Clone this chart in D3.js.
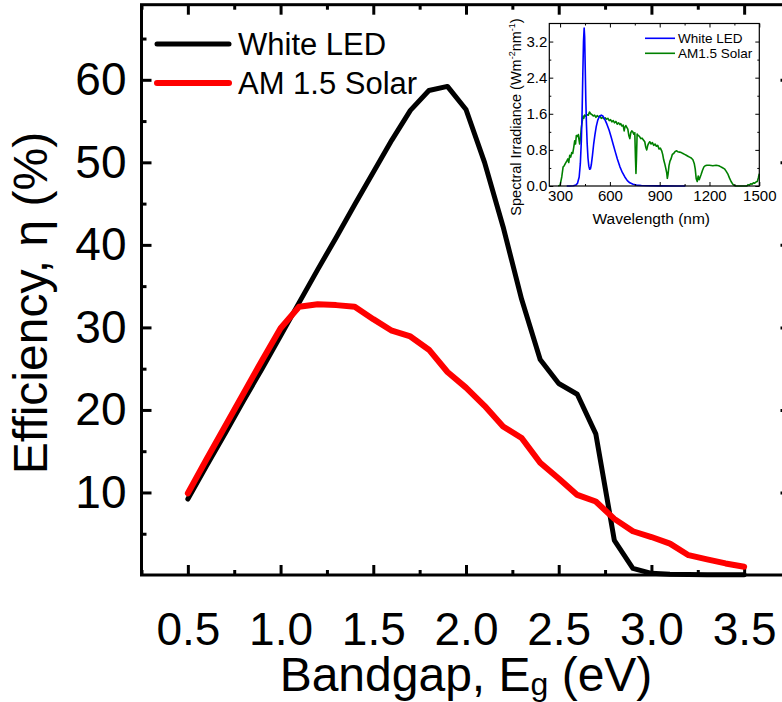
<!DOCTYPE html>
<html>
<head>
<meta charset="utf-8">
<script src="https://cdn.jsdelivr.net/npm/d3@7/dist/d3.min.js"></script>
<style>
  body { margin: 0; background: #fff; }
  svg { display: block; }
  text { font-family: "Liberation Sans", Arial, sans-serif; fill: #000; }
</style>
</head>
<body>
<svg id="chart" width="782" height="702"></svg>
<script>
// Main panel: efficiency versus bandgap
const bandgap = [0.5, 0.6, 0.7, 0.8, 0.9, 1.0, 1.1, 1.2, 1.3, 1.4, 1.5, 1.6, 1.7, 1.8, 1.9, 2.0,
                 2.1, 2.2, 2.3, 2.4, 2.5, 2.6, 2.7, 2.8, 2.9, 3.0, 3.1, 3.2, 3.3, 3.4, 3.5];
const effWhiteLED = [9.2, 13.2, 17.1, 21.1, 25.0, 29.0, 33.0, 37.0, 40.9, 44.9, 48.8, 52.7, 56.3, 58.7, 59.2, 56.4,
                     50.0, 42.2, 33.4, 26.1, 23.2, 21.9, 17.1, 4.2, 0.8, 0.2, 0.1, 0.05, 0.03, 0.02, 0.02];
const effSolar = [9.9, 14.0, 18.0, 22.0, 26.0, 29.9, 32.5, 32.8, 32.7, 32.5, 31.0, 29.6, 28.9, 27.3, 24.6, 22.7,
                  20.5, 18.0, 16.6, 13.6, 11.7, 9.7, 8.9, 6.8, 5.3, 4.6, 3.8, 2.4, 1.9, 1.4, 1.0];
const seriesNames = ["White LED", "AM 1.5 Solar"];
const seriesColors = ["#000000", "#ff0000"];
const xTickValues = [0.5, 1.0, 1.5, 2.0, 2.5, 3.0, 3.5];
const xMinorValues = [0.25, 0.75, 1.25, 1.75, 2.25, 2.75, 3.25, 3.75];
const yTickValues = [10, 20, 30, 40, 50, 60];
const yMinorValues = [5, 15, 25, 35, 45, 55, 65];

// Inset: spectral irradiance of the two sources
const ledWavelength = [340, 360, 380, 395, 405, 415, 422, 428, 433, 437, 441, 445, 448, 451, 455, 459, 463, 468, 473, 478,
                       483, 488, 495, 502, 510, 518, 527, 537, 548, 558, 570, 582, 595, 608, 620, 633, 645, 660, 675, 690,
                       705, 720, 740, 760, 790, 830, 900, 1000, 1055];
const ledIrradiance = [0, 0, 0.005, 0.02, 0.06, 0.2, 0.5, 1.0, 1.7, 2.5, 3.2, 3.5, 3.3, 2.7, 1.9, 1.35, 0.95, 0.62, 0.44, 0.37,
                       0.38, 0.47, 0.68, 0.92, 1.14, 1.32, 1.46, 1.54, 1.57, 1.55, 1.47, 1.37, 1.24, 1.08, 0.92, 0.75, 0.6, 0.43, 0.3, 0.2,
                       0.12, 0.07, 0.04, 0.02, 0.01, 0.005, 0.002, 0.001, 0];
const solarWavelength = [289, 300, 310, 318, 325, 332, 340, 347, 352, 358, 364, 370, 376, 382, 388, 393, 398, 404, 410, 414,
                         418, 423, 428, 433, 438, 443, 448, 455, 462, 470, 477, 484, 492, 500, 508, 516, 524, 532, 540, 548,
                         556, 564, 572, 580, 588, 596, 604, 612, 620, 628, 636, 644, 652, 660, 666, 672, 680, 686, 690, 696,
                         702, 708, 714, 720, 726, 732, 738, 744, 750, 754, 757, 760, 764, 770, 778, 786, 794, 802, 810, 816,
                         822, 828, 834, 840, 848, 856, 864, 872, 880, 888, 896, 904, 912, 918, 924, 930, 936, 942, 946, 950,
                         956, 962, 968, 976, 984, 992, 1000, 1010, 1020, 1030, 1040, 1050, 1060, 1070, 1080, 1090, 1100, 1108, 1114, 1120,
                         1126, 1132, 1138, 1144, 1150, 1158, 1166, 1174, 1184, 1200, 1220, 1240, 1256, 1266, 1276, 1290, 1300, 1310, 1320, 1330,
                         1340, 1350, 1358, 1400, 1425, 1432, 1440, 1448, 1456, 1465, 1472, 1480, 1488, 1494, 1500];
const solarIrradiance = [0, 0.02, 0.2, 0.42, 0.45, 0.5, 0.55, 0.6, 0.52, 0.68, 0.64, 0.74, 0.72, 0.85, 1.0, 0.93, 1.12, 1.1, 1.14, 1.02,
                         0.93, 1.08, 1.3, 1.42, 1.55, 1.5, 1.57, 1.55, 1.58, 1.57, 1.64, 1.6, 1.58, 1.55, 1.57, 1.52, 1.56, 1.53, 1.55, 1.5,
                         1.52, 1.49, 1.51, 1.48, 1.5, 1.45, 1.47, 1.42, 1.45, 1.4, 1.43, 1.37, 1.4, 1.36, 1.38, 1.33, 1.35, 1.22, 1.3, 1.34,
                         1.3, 1.26, 1.12, 1.05, 1.18, 1.22, 1.2, 1.15, 1.18, 0.62, 0.28, 0.6, 1.15, 1.12, 1.1, 1.05, 1.06, 1.02, 0.98, 0.86,
                         0.8, 0.9, 0.95, 0.98, 0.93, 0.96, 0.9, 0.93, 0.88, 0.9, 0.82, 0.84, 0.78, 0.7, 0.58, 0.5, 0.4, 0.3, 0.17, 0.25,
                         0.45, 0.55, 0.6, 0.7, 0.72, 0.76, 0.78, 0.76, 0.75, 0.74, 0.72, 0.7, 0.68, 0.66, 0.64, 0.62, 0.58, 0.5, 0.38, 0.16,
                         0.1, 0.22, 0.14, 0.2, 0.26, 0.35, 0.42, 0.45, 0.46, 0.46, 0.45, 0.46, 0.45, 0.43, 0.41, 0.38, 0.33, 0.27, 0.18, 0.1,
                         0.04, 0.01, 0, 0, 0, 0.03, 0.02, 0.05, 0.04, 0.07, 0.06, 0.09, 0.1, 0.18, 0.27];
const insetNames = ["White LED", "AM1.5 Solar"];
const insetColors = ["#0000ff", "#008000"];
const insetXTicks = [300, 600, 900, 1200, 1500];
const insetXMinor = [450, 750, 1050, 1350];
const insetYTicks = [0.0, 0.8, 1.6, 2.4, 3.2];
const insetYMinor = [0.4, 1.2, 2.0, 2.8];

const svg = d3.select("#chart");
const FONT = "Liberation Sans, Arial, sans-serif";

// ---------- main plot ----------
const frame = { left: 141.5, right: 790.5, top: 4.7, bottom: 575 };
const x = d3.scaleLinear().domain([0.25, 3.75]).range([frame.left, frame.right]);
const y = d3.scaleLinear().domain([0, 69.1]).range([frame.bottom, frame.top]);

function styleTicks(g, width) {
  g.attr("font-family", FONT);
  g.select(".domain").remove();
  g.selectAll(".tick line").attr("stroke", "#000").attr("stroke-width", width);
}

// bottom axis with labels, ticks pointing inward
svg.append("g").attr("transform", `translate(0,${frame.bottom})`)
  .call(d3.axisBottom(x).tickValues(xTickValues).tickSize(-10).tickPadding(37.5).tickFormat(d3.format(".1f")))
  .call(g => styleTicks(g, 3))
  .call(g => g.selectAll("text").attr("font-size", 46));
svg.append("g").attr("transform", `translate(0,${frame.bottom})`)
  .call(d3.axisBottom(x).tickValues(xMinorValues).tickSize(-5).tickFormat(""))
  .call(g => styleTicks(g, 3));
// top mirror
svg.append("g").attr("transform", `translate(0,${frame.top})`)
  .call(d3.axisTop(x).tickValues(xTickValues).tickSize(-10).tickFormat(""))
  .call(g => styleTicks(g, 3));
svg.append("g").attr("transform", `translate(0,${frame.top})`)
  .call(d3.axisTop(x).tickValues(xMinorValues).tickSize(-5).tickFormat(""))
  .call(g => styleTicks(g, 3));
// left axis with labels
svg.append("g").attr("transform", `translate(${frame.left},0)`)
  .call(d3.axisLeft(y).tickValues(yTickValues).tickSize(-10).tickPadding(15).tickFormat(d3.format("d")))
  .call(g => styleTicks(g, 3))
  .call(g => g.selectAll("text").attr("font-size", 46));
svg.append("g").attr("transform", `translate(${frame.left},0)`)
  .call(d3.axisLeft(y).tickValues(yMinorValues).tickSize(-5).tickFormat(""))
  .call(g => styleTicks(g, 3));
// right mirror
svg.append("g").attr("transform", `translate(${frame.right},0)`)
  .call(d3.axisRight(y).tickValues(yTickValues).tickSize(-10).tickFormat(""))
  .call(g => styleTicks(g, 3));
svg.append("g").attr("transform", `translate(${frame.right},0)`)
  .call(d3.axisRight(y).tickValues(yMinorValues).tickSize(-5).tickFormat(""))
  .call(g => styleTicks(g, 3));

// frame
svg.append("rect")
  .attr("x", frame.left).attr("y", frame.top)
  .attr("width", frame.right - frame.left).attr("height", frame.bottom - frame.top)
  .attr("fill", "none").attr("stroke", "#000").attr("stroke-width", 3);

// data curves
const mainSeries = [
  { name: seriesNames[0], color: seriesColors[0], values: effWhiteLED, width: 5 },
  { name: seriesNames[1], color: seriesColors[1], values: effSolar, width: 6 }
];
const line = d3.line().x(d => x(d[0])).y(d => y(d[1]));
mainSeries.forEach(s => {
  svg.append("path")
    .datum(bandgap.map((b, i) => [b, s.values[i]]))
    .attr("d", line)
    .attr("fill", "none")
    .attr("stroke", s.color)
    .attr("stroke-width", s.width)
    .attr("stroke-linejoin", "round")
    .attr("stroke-linecap", "round");
});

// legend
const legend = svg.append("g").attr("transform", "translate(157,44)");
mainSeries.forEach((s, i) => {
  const row = legend.append("g").attr("transform", `translate(0,${i * 39})`);
  row.append("line").attr("x1", 0).attr("x2", 72).attr("y1", 0).attr("y2", 0)
    .attr("stroke", s.color).attr("stroke-width", s.width).attr("stroke-linecap", "round");
  row.append("text").attr("x", 81).attr("y", 0).attr("dy", "0.36em")
    .attr("font-size", 31).text(s.name);
});

// axis titles
svg.append("text")
  .attr("transform", "translate(47,303) rotate(-90)")
  .attr("text-anchor", "middle")
  .attr("font-size", 48)
  .text("Efficiency, η (%)");
const xTitle = svg.append("text")
  .attr("x", 466).attr("y", 691)
  .attr("text-anchor", "middle")
  .attr("font-size", 48);
xTitle.append("tspan").text("Bandgap, E");
xTitle.append("tspan").attr("font-size", 32).attr("dy", 4).text("g");
xTitle.append("tspan").attr("dy", -4).text(" (eV)");

// ---------- inset ----------
const inset = { left: 549.3, right: 759.3, top: 23.5, bottom: 186 };
const ix = d3.scaleLinear().domain([235, 1500]).range([inset.left, inset.right]);
const iy = d3.scaleLinear().domain([0, 3.6]).range([inset.bottom, inset.top]);

svg.append("rect")
  .attr("x", inset.left).attr("y", inset.top)
  .attr("width", inset.right - inset.left).attr("height", inset.bottom - inset.top)
  .attr("fill", "#fff");

const insetLine = d3.line().x(d => ix(d[0])).y(d => iy(d[1]));
const insetSeries = [
  { name: insetNames[0], color: insetColors[0], wl: ledWavelength, val: ledIrradiance },
  { name: insetNames[1], color: insetColors[1], wl: solarWavelength, val: solarIrradiance }
];
// solar drawn first so the LED curve sits on top
[insetSeries[1], insetSeries[0]].forEach(s => {
  svg.append("path")
    .datum(s.wl.map((w, i) => [w, s.val[i]]))
    .attr("d", insetLine)
    .attr("fill", "none")
    .attr("stroke", s.color)
    .attr("stroke-width", 1.6)
    .attr("stroke-linejoin", "round");
});

function insetAxis(axis, tx, ty, label) {
  const g = svg.append("g").attr("transform", `translate(${tx},${ty})`).call(axis);
  g.attr("font-family", FONT);
  g.select(".domain").remove();
  g.selectAll(".tick line").attr("stroke", "#000").attr("stroke-width", 1);
  if (label) g.selectAll("text").attr("font-size", 15);
  return g;
}
insetAxis(d3.axisBottom(ix).tickValues(insetXTicks).tickSize(-4).tickPadding(4).tickFormat(d3.format("d")), 0, inset.bottom, true);
insetAxis(d3.axisBottom(ix).tickValues(insetXMinor).tickSize(-2).tickFormat(""), 0, inset.bottom);
insetAxis(d3.axisTop(ix).tickValues(insetXTicks).tickSize(-4).tickFormat(""), 0, inset.top);
insetAxis(d3.axisTop(ix).tickValues(insetXMinor).tickSize(-2).tickFormat(""), 0, inset.top);
insetAxis(d3.axisLeft(iy).tickValues(insetYTicks).tickSize(-4).tickPadding(2).tickFormat(d3.format(".1f")), inset.left, 0, true);
insetAxis(d3.axisLeft(iy).tickValues(insetYMinor).tickSize(-2).tickFormat(""), inset.left, 0);
insetAxis(d3.axisRight(iy).tickValues(insetYTicks).tickSize(-4).tickFormat(""), inset.right, 0);
insetAxis(d3.axisRight(iy).tickValues(insetYMinor).tickSize(-2).tickFormat(""), inset.right, 0);

svg.append("rect")
  .attr("x", inset.left).attr("y", inset.top)
  .attr("width", inset.right - inset.left).attr("height", inset.bottom - inset.top)
  .attr("fill", "none").attr("stroke", "#000").attr("stroke-width", 1.2);

// inset legend
insetSeries.forEach((s, i) => {
  const yy = 38.3 + i * 15;
  svg.append("line").attr("x1", 645).attr("x2", 675).attr("y1", yy).attr("y2", yy)
    .attr("stroke", s.color).attr("stroke-width", 1.6);
  svg.append("text").attr("x", 678).attr("y", yy).attr("dy", "0.36em")
    .attr("font-size", 13.5).text(s.name);
});

// inset axis titles
svg.append("text")
  .attr("x", (inset.left + inset.right) / 2 - 3).attr("y", 224)
  .attr("text-anchor", "middle").attr("font-size", 15.5)
  .text("Wavelength (nm)");
const iyTitle = svg.append("text")
  .attr("transform", "translate(521,117) rotate(-90)")
  .attr("text-anchor", "middle").attr("font-size", 14.5);
iyTitle.append("tspan").text("Spectral Irradiance (Wm");
iyTitle.append("tspan").attr("font-size", 9).attr("dy", -6).text("-2");
iyTitle.append("tspan").attr("dy", 6).text("nm");
iyTitle.append("tspan").attr("font-size", 9).attr("dy", -6).text("-1");
iyTitle.append("tspan").attr("dy", 6).text(")");
</script>
</body>
</html>
